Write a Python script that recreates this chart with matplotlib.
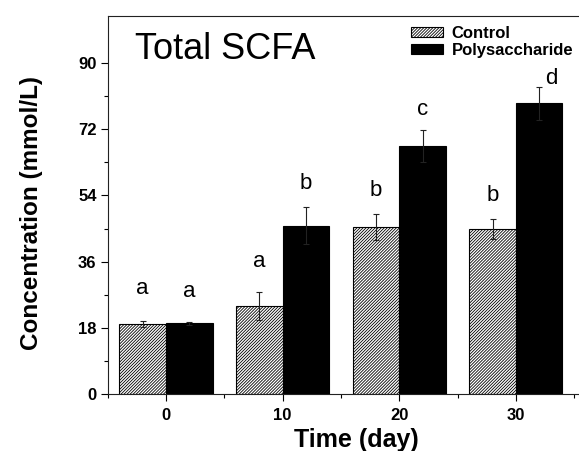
import matplotlib
matplotlib.use('Agg')
import matplotlib.pyplot as plt
import numpy as np

plt.rcParams['font.family'] = ['Liberation Sans', 'DejaVu Sans']
plt.rcParams['hatch.linewidth'] = 0.6
plt.rcParams['hatch.color'] = '#3a3a3a'

# data
days = [0, 10, 20, 30]
control = [19.1, 24.0, 45.5, 44.9]
control_err = [0.9, 3.9, 3.5, 2.7]
poly = [19.3, 45.8, 67.5, 79.0]
poly_err = [0.4, 5.1, 4.4, 4.5]
control_letters = ['a', 'a', 'b', 'b']
poly_letters = ['a', 'b', 'c', 'd']
control_letter_y = [27.1, 34.5, 53.9, 52.4]
poly_letter_y = [26.3, 55.7, 75.9, 84.2]

fig = plt.figure(figsize=(5.79, 4.51), dpi=100)
ax = fig.add_axes([0.186, 0.1257, 0.8157, 0.8395])

x = np.array(days, dtype=float)
w = 4
b1 = ax.bar(x - w / 2, control, w, color='white', edgecolor='black', hatch='/' * 11,
            linewidth=0.8, label='Control')
b2 = ax.bar(x + w / 2, poly, w, color='black', edgecolor='black', linewidth=0.8,
            label='Polysaccharide')
ax.errorbar(x - w / 2, control, yerr=control_err, fmt='none', ecolor='#222222',
            elinewidth=0.8, capsize=2.2, capthick=0.8)
ax.errorbar(x + w / 2, poly, yerr=poly_err, fmt='none', ecolor='#222222',
            elinewidth=0.8, capsize=2.2, capthick=0.8)

# significance letters
for i in range(len(days)):
    ax.text(x[i] - w / 2, control_letter_y[i], control_letters[i], ha='center',
            va='baseline', fontsize=16)
    dx = 1.0 if i == len(days) - 1 else 0
    ax.text(x[i] + w / 2 + dx, poly_letter_y[i], poly_letters[i], ha='center',
            va='baseline', fontsize=16)

ax.set_xlim(-5, 35.5)
ax.set_ylim(0, 102.8)
ax.set_xticks(days)
ax.set_xticks([-5, 5, 15, 25, 35], minor=True)
ax.set_yticks([0, 18, 36, 54, 72, 90])
ax.set_yticks([9, 27, 45, 63, 81], minor=True)
ax.tick_params(axis='both', which='major', direction='out', length=5, width=0.8,
               labelsize=12)
ax.tick_params(axis='both', which='minor', direction='out', length=3, width=0.8)
ax.tick_params(axis='x', pad=4.5)
ax.tick_params(axis='y', pad=3)
for lab in ax.get_xticklabels() + ax.get_yticklabels():
    lab.set_fontweight('bold')
for s in ax.spines.values():
    s.set_linewidth(0.8)
    s.set_color('#222222')

ax.set_ylabel('Concentration (mmol/L)', fontsize=17.5, fontweight='bold')
ax.yaxis.set_label_coords(-0.138, 0.478)
ax.set_xlabel('Time (day)', fontsize=18, fontweight='bold', va='top')
ax.xaxis.set_label_coords(0.526, -0.089)

fig.text(0.234, 0.8685, 'Total SCFA', fontsize=26, ha='left', va='baseline')

ax.legend(handles=[b1, b2], loc='upper left', bbox_to_anchor=(0.7093, 0.9432),
          bbox_transform=fig.transFigure,
          frameon=False, borderpad=0, borderaxespad=0, handlelength=1.96,
          handleheight=0.56, handletextpad=0.5, labelspacing=0.16,
          prop={'weight': 'bold', 'size': 12})

fig.savefig('out.png', dpi=100)
